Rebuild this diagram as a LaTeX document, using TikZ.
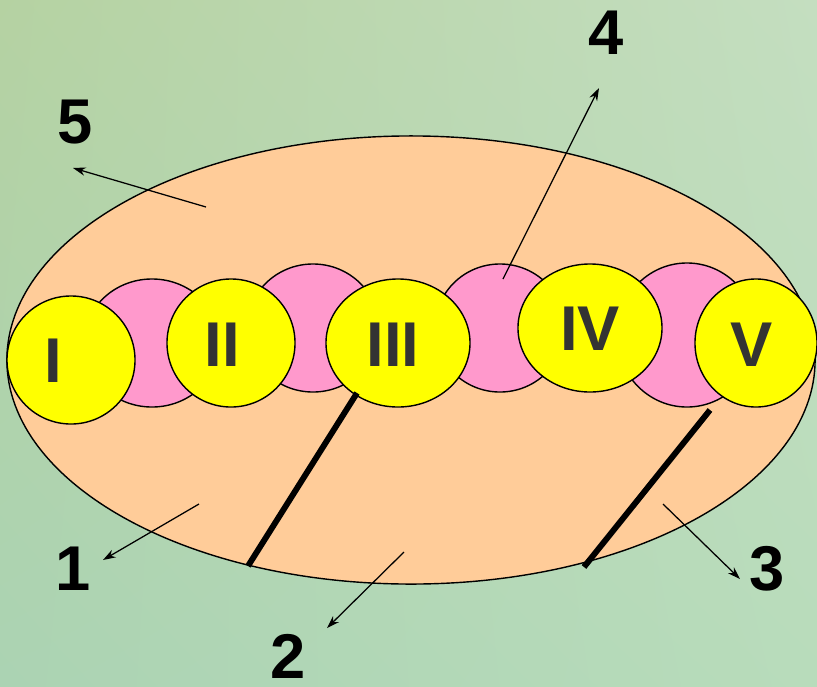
\documentclass[tikz,border=0pt]{standalone}
\usepackage{fontspec}
\setmainfont{Liberation Sans}
\usetikzlibrary{shapes.geometric,arrows.meta,shadings}
\definecolor{melocoton}{HTML}{FFCC99}
\definecolor{rosa}{HTML}{FF99CC}
\definecolor{amarillo}{HTML}{FFFF00}
\definecolor{gris}{HTML}{333333}
\definecolor{fondoA}{HTML}{B5D2A2}
\definecolor{fondoB}{HTML}{C4DEC0}
\definecolor{fondoC}{HTML}{ABD3B3}
\definecolor{fondoD}{HTML}{B8DCBB}

\begin{document}
\begin{tikzpicture}[x=0.025cm, y=-0.025cm,
  disco/.style={ellipse, draw, line width=1pt, inner sep=0pt},
  numeral/.style={font=\bfseries\fontsize{45}{50}\selectfont, inner sep=0pt},
  flecha/.style={-{Stealth[length=9pt,width=6pt]}, line width=0.9pt},
  barra/.style={line width=4.2pt}]

% Fondo
\useasboundingbox (0,0) rectangle (817,686);
\shade[upper left=fondoA, upper right=fondoB, lower left=fondoC, lower right=fondoD]
	(0,0) rectangle (817,686);

% Elipse grande
\node[disco, fill=melocoton, minimum width=20.2cm, minimum height=11.2cm] (cel) at (411,360) {};

% Discos rosas
\foreach \n/\x/\y/\w/\h in {a/152/343/3.4/3.2, b/313/328/3.3/3.2, c/500/328/3.25/3.2, d/687/335/3.5/3.6}
	\node[disco, fill=rosa, minimum width=\w cm, minimum height=\h cm] (r\n) at (\x,\y) {};

% Discos amarillos
\foreach \n/\x/\y/\w in {I/71/360/3.2, II/231/343/3.2, III/398/343/3.6, IV/590/328/3.6, V/756/343/3.05}
	\node[disco, fill=amarillo, minimum width=\w cm, minimum height=3.2cm] (a\n) at (\x,\y) {};

\foreach \n/\x/\y in {I/53/361, II/222/345, III/393/345, IV/590/329, V/752/345}
	\node[numeral, text=gris] (t\n) at (\x,\y) {\n};

% Barras
\coordinate (b1) at (357,393);
\coordinate (b2) at (248,566);
\coordinate (b3) at (710,410);
\coordinate (b4) at (584,567);
\draw[barra] (b1) -- (b2);
\draw[barra] (b3) -- (b4);

% Etiquetas y flechas
\foreach \n/\x/\y in {1/73/569, 2/288/656, 3/767/569, 4/606/33, 5/75/122}
	\node[numeral] (n\n) at (\x,\y) {\n};

\foreach \n/\xa/\ya/\xb/\yb in {1/199/504/103/560, 2/404/552/327/628, 3/663/504/740/579, 4/503/279/599/88, 5/206/207/73/168}{
	\coordinate (p\n) at (\xa,\ya);
	\coordinate (q\n) at (\xb,\yb);
	\draw[flecha] (p\n) -- (q\n);
}
\end{tikzpicture}
\end{document}
